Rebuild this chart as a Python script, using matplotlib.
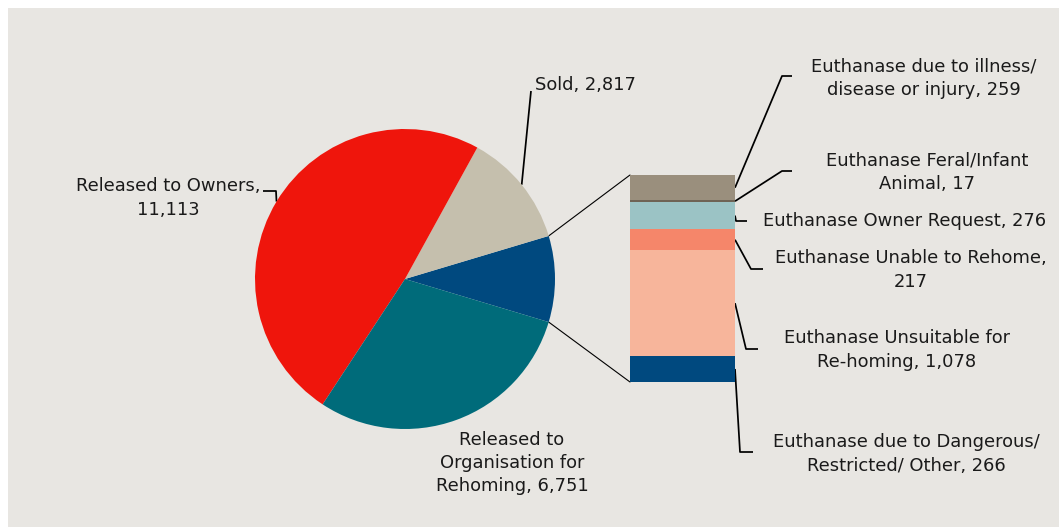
import numpy as np
import matplotlib
matplotlib.use("Agg")
import matplotlib.pyplot as plt
from matplotlib.patches import Rectangle, ConnectionPatch

# Outcomes (pie): order drawn counter-clockwise from the euthanasia wedge
outcome_labels = ["Euthanased", "Sold", "Released to Owners",
                  "Released to Organisation for Rehoming"]
outcome_values = [2113, 2817, 11113, 6751]
outcome_colors = ["#00497f", "#c5bfad", "#ef150c", "#006b7a"]

# Euthanasia breakdown (bar), bottom to top
euth_labels = ["Euthanase due to Dangerous/\nRestricted/ Other",
               "Euthanase Unsuitable for\nRe-homing",
               "Euthanase Unable to Rehome,\n",
               "Euthanase Owner Request",
               "Euthanase Feral/Infant\nAnimal",
               "Euthanase due to illness/\ndisease or injury"]
euth_values = [266, 1078, 217, 276, 17, 259]
euth_colors = ["#00497f", "#f7b59b", "#f5866a", "#9bc3c5", "#6e6355", "#9a8f7d"]

W, H = 1059, 527
BG = "#e8e6e2"
TXT = "#1a1a1a"
plt.rcParams["font.family"] = ["DejaVu Sans"]
FS = 12.9
LS = 1.36

fig = plt.figure(figsize=(W / 100, H / 100), dpi=100, facecolor="white")

# overlay axes in pixel units (y down) for background, labels, leaders
ov = fig.add_axes([0, 0, 1, 1], zorder=0)
ov.set_xlim(0, W)
ov.set_ylim(H, 0)
ov.axis("off")
ov.add_patch(Rectangle((8, 8), W - 8, H - 8, color=BG, lw=0))


def px_axes(x0, y0, x1, y1, **kw):
    return fig.add_axes([x0 / W, 1 - y1 / H, (x1 - x0) / W, (y1 - y0) / H], **kw)


# ---- pie ----
ax_pie = px_axes(255, 129, 555, 429, zorder=2)
ax_pie.patch.set_visible(False)
total = sum(outcome_values)
start = -outcome_values[0] / total * 360 / 2
wedges, _ = ax_pie.pie(outcome_values, colors=outcome_colors, startangle=start,
                       counterclock=True, radius=1.0)
ax_pie.set_xlim(-1, 1)
ax_pie.set_ylim(-1, 1)

# ---- stacked bar ----
ax_bar = px_axes(630, 175, 735, 382, zorder=2)
ax_bar.patch.set_visible(False)
bottoms = np.concatenate([[0], np.cumsum(euth_values)[:-1]])
for v, b, c in zip(euth_values, bottoms, euth_colors):
    ax_bar.bar([0], v, bottom=b, width=1, color=c)
euth_total = sum(euth_values)
ax_bar.set_xlim(-0.5, 0.5)
ax_bar.set_ylim(0, euth_total)
ax_bar.axis("off")

# lines joining the euthanasia wedge to the bar
half = np.radians(-start)
for ang, yb in [(half, euth_total), (-half, 0)]:
    cp = ConnectionPatch(xyA=(np.cos(ang), np.sin(ang)), coordsA=ax_pie.transData,
                         xyB=(-0.5, yb), coordsB=ax_bar.transData,
                         color="black", lw=0.8, zorder=1)
    fig.add_artist(cp)

fig.canvas.draw()


def to_px(ax, x, y):
    dx, dy = ax.transData.transform((x, y))
    return dx, H - dy


def leader(pts):
    xs, ys = zip(*pts)
    ov.plot(xs, ys, color="black", lw=1.25, solid_capstyle="butt")


def label(x, y, s, ha="center"):
    ov.text(x, y, s, fontsize=FS, color=TXT, ha=ha, va="center",
            multialignment="center", linespacing=LS)


# pie labels
mids = []
acc = start
for v in outcome_values:
    a = v / total * 360
    mids.append(np.radians(acc + a / 2))
    acc += a

sx, sy = to_px(ax_pie, np.cos(mids[1]), np.sin(mids[1]))
leader([(sx, sy), (531, 91)])
label(535, 85, f"Sold, {outcome_values[1]:,}", ha="left")

ox, oy = to_px(ax_pie, np.cos(mids[2]), np.sin(mids[2]))
leader([(ox, oy), (276, 191), (263, 191)])
label(168, 198, f"Released to Owners,\n{outcome_values[2]:,}")

label(512, 463, f"Released to\nOrganisation for\nRehoming, {outcome_values[3]:,}")

# bar labels: (elbow, end, text centre)
bar_label_pos = [
    ((740, 452), (753, 452), (906, 454)),
    ((746, 349), (758, 349), (897, 350)),
    ((751, 269), (763, 269), (911, 270)),
    ((736, 221), (747, 221), (905, 221)),
    ((782, 171), (792, 171), (927, 172)),
    ((782, 76), (792, 76), (924, 78)),
]
for lab, v, b, (elb, end, tc) in zip(euth_labels, euth_values, bottoms, bar_label_pos):
    ax_, ay_ = to_px(ax_bar, 0.5, b + v / 2)
    leader([(ax_, ay_), elb, end])
    txt = lab + f"{v:,}" if lab.endswith("\n") else lab + f", {v:,}"
    label(tc[0], tc[1], txt)

fig.savefig("out.png", dpi=100, facecolor="white")
